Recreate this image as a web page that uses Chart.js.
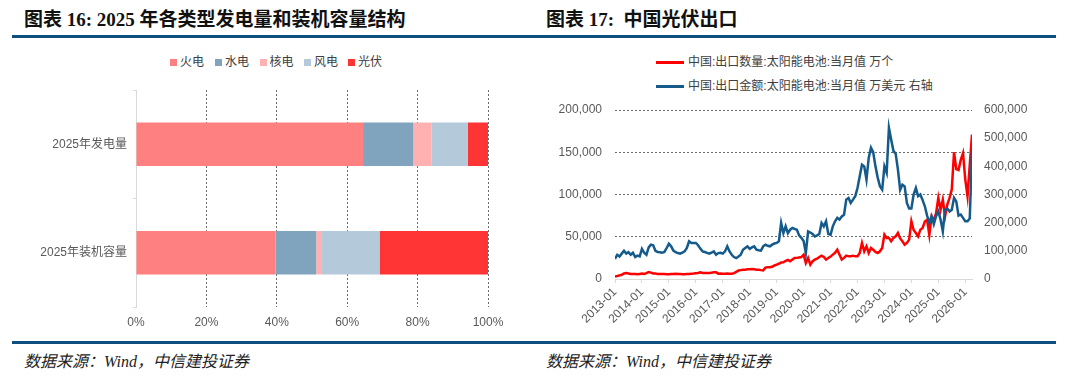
<!DOCTYPE html>
<html><head><meta charset="utf-8">
<script src="https://cdn.jsdelivr.net/npm/chart.js@4.4.1/dist/chart.umd.min.js"></script>
<style>
html,body{margin:0;padding:0;background:#fff;}
body{width:1080px;height:382px;position:relative;overflow:hidden;font-family:'Liberation Sans','Noto Sans CJK SC',sans-serif;}
.title{position:absolute;top:9px;font-family:'Liberation Serif','Noto Sans CJK SC',serif;font-weight:bold;font-size:19px;line-height:22px;color:#111;white-space:nowrap;}
.rule{position:absolute;height:3px;background:#0d4f7f;}
.foot{position:absolute;top:352px;font-family:'Liberation Serif','Noto Sans CJK SC',serif;font-style:italic;font-size:16px;line-height:20px;color:#222;white-space:nowrap;}
.leg{position:absolute;font-size:12px;line-height:14px;color:#404040;white-space:nowrap;}
.sq{position:absolute;width:7px;height:7px;}
.ln{position:absolute;height:3px;width:28px;}
canvas{position:absolute;top:0;}
</style></head><body>
<div class="title" style="left:24px">图表 16: 2025 年各类型发电量和装机容量结构</div>
<div class="title" style="left:546px">图表 17:&nbsp; 中国光伏出口</div>
<div class="rule" style="left:12px;width:528px;top:35px"></div>
<div class="rule" style="left:540px;width:516px;top:35px"></div>
<div class="rule" style="left:12px;width:528px;top:341px"></div>
<div class="rule" style="left:540px;width:516px;top:341px"></div>
<div class="foot" style="left:24px">数据来源：Wind，中信建投证券</div>
<div class="foot" style="left:546px">数据来源：Wind，中信建投证券</div>
<div id="leg1"></div>
<div id="leg2"></div>
<canvas id="c1" width="540" height="340" style="left:0"></canvas>
<canvas id="c2" width="540" height="340" style="left:540px"></canvas>
<script>
// ---- Chart 16 data ----
const fuelTypes = ['火电','水电','核电','风电','光伏'];
const fuelColors = ['#ff8080','#80a4be','#ffb1b1','#b4c9d9','#ff3535'];
const barCategories = ['2025年发电量','2025年装机容量'];
const genShare = [64.5, 14.3, 5.1, 10.4, 5.7];
const capShare = [39.6, 11.6, 1.4, 16.6, 30.8];
const pctTicks = [0,20,40,60,80,100];

// ---- Chart 17 data ----
const seriesNames = ['中国:出口数量:太阳能电池:当月值 万个','中国:出口金额:太阳能电池:当月值 万美元 右轴'];
const startYear = 2013, monthCount = 160;
const monthLabels = [];
for (let k = 0; k < monthCount; k++) {
  const y = startYear + Math.floor(k/12), m = k % 12 + 1;
  monthLabels.push(y + '-' + (m < 10 ? '0' + m : m));
}
// 万个 (left axis)
const exportQty = [
  3000,3500,4300,5000,6500,7000,6500,6000,6000,6000,5500,6000,
  6500,6000,7000,8300,7500,6500,6500,6000,6000,6000,5800,5500,
  5500,6000,6000,6300,6000,5800,5500,5500,5800,6000,6300,6500,
  6800,7100,7900,7100,7000,7100,7000,7500,8000,7900,6300,6500,
  6300,6300,6500,6300,6300,7000,8500,10000,10500,11000,11000,11500,
  11500,11800,11500,11000,11000,10500,10200,13500,14000,14000,14500,16000,
  17000,18000,19500,19700,21500,22500,21000,23000,24900,25000,25500,26000,
  28800,19000,24900,17000,21000,22900,24000,26000,27600,26000,22900,24900,
  26500,28800,31000,34700,28800,23000,25000,27600,26800,27000,27600,26800,
  27000,30800,42700,32800,38600,30800,36700,34700,32000,30800,32800,36700,
  52500,48600,48600,44600,48600,50500,54500,48000,44600,40600,42700,46600,
  68300,58000,54500,50500,58400,60400,68000,70000,52000,74000,70000,78000,
  96000,82000,94000,74000,88000,96000,106000,150000,130000,129000,141000,149000,
  118000,98000,135000,171000
];
// 万美元 (right axis)
const exportValue = [
  71000,86000,80000,90000,100000,90000,95000,86000,93000,78000,83000,80000,
  107000,93000,86000,112000,122000,120000,100000,96000,95000,93000,96000,110000,
  125000,116000,101000,95000,92000,90000,94000,98000,110000,134000,128000,128000,
  128000,120000,108000,98000,96000,93000,90000,94000,98000,86000,92000,93000,
  90000,98000,116000,98000,86000,78000,74000,80000,86000,104000,110000,116000,
  107000,112000,116000,104000,102000,101000,116000,122000,118000,116000,122000,126000,
  128000,134000,199000,163000,187000,163000,175000,181000,178000,175000,155000,146000,
  135000,92000,169000,165000,160000,151000,155000,160000,199000,187000,205000,160000,
  157000,187000,205000,217000,211000,222000,228000,282000,288000,270000,282000,294000,
  323000,365000,406000,400000,353000,430000,466000,450000,400000,360000,329000,317000,
  400000,377000,537000,495000,455000,445000,389000,317000,335000,329000,270000,250000,
  250000,300000,323000,294000,300000,280000,258000,225000,200000,223000,195000,223000,
  240000,211000,169000,246000,250000,240000,246000,288000,275000,225000,229000,217000,
  205000,205000,215000,454000
];
const leftTicks = [0,50000,100000,150000,200000];
const rightTicks = [0,100000,200000,300000,400000,500000,600000];
const seriesColors = ['#ff0000','#145a8b'];

Chart.defaults.font.family = "'Liberation Sans','Noto Sans CJK SC',sans-serif";
Chart.defaults.font.size = 12;

// legends (HTML)
const legX1 = [170,215,259.5,304,348];
document.getElementById('leg1').innerHTML = fuelTypes.map((n,k)=>
  `<div class="sq" style="left:${legX1[k]}px;top:58.5px;background:${fuelColors[k]}"></div>`+
  `<div class="leg" style="left:${legX1[k]+10}px;top:55px">${n}</div>`).join('');
document.getElementById('leg2').innerHTML = seriesNames.map((n,k)=>
  `<div class="ln" style="left:656px;top:${60.5+k*24}px;background:${seriesColors[k]}"></div>`+
  `<div class="leg" style="left:688px;top:${55+k*24}px">${n}</div>`).join('');

new Chart(document.getElementById('c1'), {
  type: 'bar',
  data: {
    labels: barCategories,
    datasets: fuelTypes.map((name,k)=>({
      label: name,
      data: [genShare[k], capShare[k]],
      backgroundColor: fuelColors[k],
      borderWidth: 0,
      barPercentage: 0.5,
      categoryPercentage: 0.8
    }))
  },
  options: {
    indexAxis: 'y', responsive: false, animation: false, devicePixelRatio: 1,
    layout: {padding: {left: 12, top: 90, right: 52, bottom: 0}},
    plugins: {legend: {display: false}, tooltip: {enabled: false}},
    scales: {
      x: {
        stacked: true, min: 0, max: 100,
        afterBuildTicks: s => { s.ticks = pctTicks.map(v=>({value:v})); },
        ticks: {callback: v => v + '%', color: '#595959', padding: 8},
        grid: {color: c => (c.tick && c.tick.value === 0) ? 'rgba(0,0,0,0)' : '#6a6a6a', drawTicks: false, lineWidth: 1},
        border: {display: false, dash: [2,2]},
        afterFit: s => { s.height = 33; }
      },
      y: {
        stacked: true,
        ticks: {color: '#595959', padding: 6},
        grid: {drawOnChartArea: false, drawTicks: true, tickLength: 3, color: '#d9d9d9'},
        border: {display: true, color: '#d9d9d9'},
        afterFit: s => { s.width = 124; }
      }
    }
  }
});

new Chart(document.getElementById('c2'), {
  type: 'line',
  data: {
    datasets: [
      {label: seriesNames[0], data: exportQty.map((v,i)=>({x:i,y:v})), borderColor: seriesColors[0], backgroundColor: seriesColors[0], borderWidth: 2.5, pointRadius: 0, yAxisID: 'y', order: 1, tension: 0},
      {label: seriesNames[1], data: exportValue.map((v,i)=>({x:i,y:v})), borderColor: seriesColors[1], backgroundColor: seriesColors[1], borderWidth: 2.5, pointRadius: 0, yAxisID: 'y1', order: 0, tension: 0}
    ]
  },
  options: {
    responsive: false, animation: false, devicePixelRatio: 1,
    layout: {padding: {left: 0, top: 110, right: 0, bottom: 0}},
    plugins: {legend: {display: false}, tooltip: {enabled: false}},
    scales: {
      x: {
        type: 'linear', min: 0, max: monthCount - 1,
        afterBuildTicks: s => { const t=[]; for (let i=0;i<monthCount;i+=12) t.push({value:i}); s.ticks = t; },
        ticks: {autoSkip: false, maxRotation: 45, minRotation: 45, callback: v => monthLabels[v], color: '#595959', padding: 2},
        grid: {drawOnChartArea: false, drawTicks: true, tickLength: 4, color: '#d9d9d9'},
        border: {display: true, color: '#d9d9d9'},
        afterFit: s => { s.height = 61; }
      },
      y: {
        position: 'left', min: 0, max: 200000,
        afterBuildTicks: s => { s.ticks = leftTicks.map(v=>({value:v})); },
        ticks: {callback: v => v.toLocaleString('en-US'), color: '#595959', padding: 13},
        grid: {color: c => (c.tick && c.tick.value === 0) ? 'rgba(0,0,0,0)' : '#6a6a6a', drawTicks: false},
        border: {display: false, dash: [2,2]},
        afterFit: s => { s.width = 75; }
      },
      y1: {
        position: 'right', min: 0, max: 600000,
        afterBuildTicks: s => { s.ticks = rightTicks.map(v=>({value:v})); },
        ticks: {callback: v => v.toLocaleString('en-US'), color: '#595959', padding: 12},
        grid: {drawOnChartArea: false, drawTicks: false},
        border: {display: false},
        afterFit: s => { s.width = 108; }
      }
    }
  }
});
</script>
</body></html>
